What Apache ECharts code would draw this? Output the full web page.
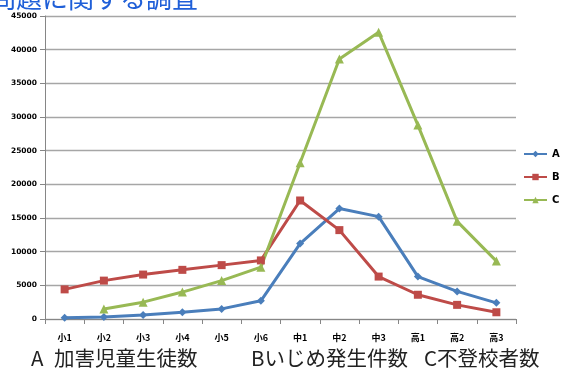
<!DOCTYPE html>
<html>
<head>
<meta charset="utf-8">
<script src="https://cdn.jsdelivr.net/npm/echarts@6/dist/echarts.min.js"></script>
<style>
  html, body { margin: 0; padding: 0; background: #fff; }
  #chart { width: 564px; height: 385px; }
</style>
</head>
<body>
<div id="chart"></div>
<script>
// School grades (elementary 1-6, junior high 1-3, high school 1-3)
const grades = ['小1', '小2', '小3', '小4', '小5', '小6', '中1', '中2', '中3', '高1', '高2', '高3'];

// A: 加害児童生徒数
const seriesA = [200, 300, 600, 1000, 1500, 2700, 11200, 16400, 15200, 6300, 4100, 2400];
// B: いじめ発生件数
const seriesB = [4400, 5700, 6600, 7300, 8000, 8700, 17600, 13200, 6300, 3600, 2100, 1000];
// C: 不登校者数 (no value for 小1)
const seriesC = [null, 1500, 2500, 4000, 5700, 7700, 23200, 38600, 42600, 28800, 14500, 8600];

const seriesNames = ['A', 'B', 'C'];
const yMax = 45000;
const yStep = 5000;

const colors = ['#4A7EBB', '#BE4B48', '#98B954'];
const symbols = ['diamond', 'rect', 'triangle'];
const symbolSizes = [8, 8, 9];

const chart = echarts.init(document.getElementById('chart'), null, { renderer: 'canvas' });

const makeSeries = (name, data, i) => ({
  name: name,
  type: 'line',
  data: data,
  color: colors[i],
  symbol: symbols[i],
  symbolSize: symbolSizes[i],
  showAllSymbol: true,
  lineStyle: { width: 3, color: colors[i] },
  itemStyle: { color: colors[i] },
  connectNulls: false,
  animation: false
});

const captionStyle = { fontSize: 20.5, fill: '#222', fontFamily: 'Noto Sans CJK JP' };

chart.setOption({
  animation: false,
  backgroundColor: '#ffffff',
  grid: { left: 45, right: 48, top: 16, bottom: 66, containLabel: false },
  legend: {
    orient: 'vertical',
    left: 523,
    top: 149,
    padding: 0,
    itemWidth: 23,
    itemHeight: 8,
    itemGap: 13,
    data: seriesNames,
    textStyle: { fontSize: 10, fontWeight: 'bold', color: '#000', fontFamily: 'DejaVu Sans' }
  },
  xAxis: {
    type: 'category',
    data: grades,
    boundaryGap: true,
    axisLine: { lineStyle: { color: '#868686', width: 1 } },
    axisTick: { show: true, length: 5, lineStyle: { color: '#868686' }, alignWithLabel: false },
    axisLabel: { fontSize: 9, fontWeight: 'bold', color: '#000', margin: 14, fontFamily: 'Noto Sans CJK JP' },
    splitLine: { show: false }
  },
  yAxis: {
    type: 'value',
    min: 0,
    max: yMax,
    interval: yStep,
    axisLine: { show: true, lineStyle: { color: '#868686', width: 1 } },
    axisTick: { show: true, length: 5, lineStyle: { color: '#868686' } },
    axisLabel: {
      fontSize: 7.5, fontWeight: 'bold', color: '#000', margin: 8, fontFamily: 'DejaVu Sans',
      formatter: (v) => String(v)
    },
    splitLine: { show: true, lineStyle: { color: '#A6A6A6', width: 1.3 } }
  },
  series: [
    makeSeries(seriesNames[0], seriesA, 0),
    makeSeries(seriesNames[1], seriesB, 1),
    makeSeries(seriesNames[2], seriesC, 2)
  ],
  graphic: [
    {
      type: 'text',
      left: -10,
      top: -15,
      silent: true,
      style: { text: '問題に関する調査', fontSize: 26, fill: '#1F5FD8', fontFamily: 'Noto Sans CJK JP' }
    },
    { type: 'text', left: 31, top: 348, silent: true, style: Object.assign({ text: 'A' }, captionStyle) },
    { type: 'text', left: 54, top: 348, silent: true, style: Object.assign({ text: '加害児童生徒数' }, captionStyle) },
    { type: 'text', left: 251, top: 348, silent: true, style: Object.assign({ text: 'Bいじめ発生件数' }, captionStyle) },
    { type: 'text', left: 424, top: 348, silent: true, style: Object.assign({ text: 'C不登校者数' }, captionStyle) }
  ]
});
</script>
</body>
</html>
